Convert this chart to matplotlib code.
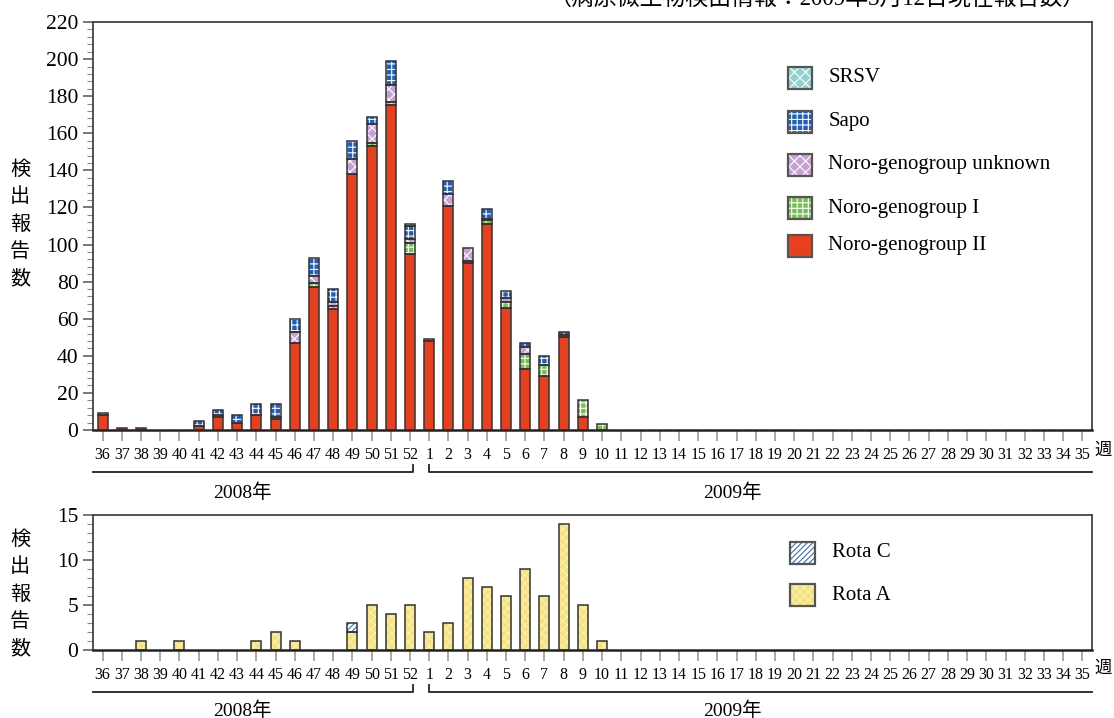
import numpy as np
import matplotlib.pyplot as plt
from matplotlib.patches import Rectangle

plt.rcParams['font.family'] = ['Liberation Serif', 'Noto Sans CJK JP']
plt.rcParams['hatch.linewidth'] = 0.8

# week labels: 2008 week 36..52, 2009 week 1..35
weeks = [str(w) for w in range(36, 53)] + [str(w) for w in range(1, 36)]

# counts for weeks 36..52 (2008) and 1..10 (2009); weeks 11..35 have no reports
noro2 = [8, 1, 1, 0, 0, 2, 7, 4, 8, 6, 47, 77, 65, 138, 153, 175, 95,
         48, 121, 90, 111, 66, 33, 29, 50, 7, 0] + [0] * 25
noro1 = [0, 0, 0, 0, 0, 0, 1, 0, 0, 1, 0, 2, 2, 0, 2, 2, 6,
         1, 0, 1, 2, 3, 8, 6, 0, 9, 3] + [0] * 25
noro_unk = [0, 0, 0, 0, 0, 0, 0, 0, 0, 0, 6, 4, 2, 8, 10, 9, 2,
            0, 6, 7, 1, 2, 4, 0, 1, 0, 0] + [0] * 25
sapo = [1, 0, 0, 0, 0, 3, 3, 4, 6, 7, 7, 10, 7, 10, 4, 13, 7,
        0, 7, 0, 5, 4, 2, 5, 2, 0, 0] + [0] * 25
srsv = [0, 0, 0, 0, 0, 0, 0, 0, 0, 0, 0, 0, 0, 0, 0, 0, 1,
        0, 0, 0, 0, 0, 0, 0, 0, 0, 0] + [0] * 25

rota_a = [0, 0, 1, 0, 1, 0, 0, 0, 1, 2, 1, 0, 0, 2, 5, 4, 5,
          2, 3, 8, 7, 6, 9, 6, 14, 5, 1] + [0] * 25
rota_c = [0, 0, 0, 0, 0, 0, 0, 0, 0, 0, 0, 0, 0, 1, 0, 0, 0,
          0, 0, 0, 0, 0, 0, 0, 0, 0, 0] + [0] * 25

top_series = [
    ('Noro-genogroup II', noro2, '#e8401f', None),
    ('Noro-genogroup I', noro1, '#74bf52', '+++'),
    ('Noro-genogroup unknown', noro_unk, '#c8a2d6', 'xxx'),
    ('Sapo', sapo, '#1f5fc2', '+++'),
    ('SRSV', srsv, '#8ed3cb', 'xxx'),
]
bot_series = [
    ('Rota A', rota_a, '#f6e27a', 'xxxx', '#fbf1b5'),
    ('Rota C', rota_c, 'white', '//////', '#3a6fc4'),
]

x = np.arange(len(weeks))
W = 0.52
EDGE = '#333333'

fig = plt.figure(figsize=(11.14, 7.18), dpi=100)
ax1 = fig.add_axes([93 / 1114, 1 - 430 / 718, 999 / 1114, 408 / 718])
ax2 = fig.add_axes([93 / 1114, 1 - 650 / 718, 999 / 1114, 135 / 718])


def draw_stack(ax, x, vals, bottom, color, hatch, hcolor='white'):
    vals = np.array(vals, dtype=float)
    m = vals > 0
    ax.bar(x[m], vals[m], W, bottom=bottom[m], color=color, hatch=hatch,
           edgecolor=hcolor, linewidth=0, zorder=2)
    ax.bar(x[m], vals[m], W, bottom=bottom[m], fill=False,
           edgecolor=EDGE, linewidth=1.1, zorder=3)
    return bottom + vals


bottom = np.zeros(len(x))
for name, vals, col, h in top_series:
    bottom = draw_stack(ax1, x, vals, bottom, col, h)

bottom = np.zeros(len(x))
for name, vals, col, h, hc in bot_series:
    bottom = draw_stack(ax2, x, vals, bottom, col, h, hc)

for ax in (ax1, ax2):
    ax.set_xlim(-0.5, len(weeks) - 0.5)
    ax.set_xticks(x)
    ax.set_xticklabels(weeks, fontsize=11.5)
    ax.tick_params(axis='x', direction='out', length=8, width=1.2,
                   color='#999999', pad=4)
    ax.tick_params(axis='y', which='major', direction='out', length=7,
                   width=1.1, color='#555555', labelsize=15.5)
    ax.tick_params(axis='y', which='minor', direction='out', length=4,
                   width=0.8, color='#888888')
    for s in ax.spines.values():
        s.set_color('#444444')
        s.set_linewidth(1.3)
    ax.spines['bottom'].set_linewidth(1.8)
    ax.spines['bottom'].set_color('#222222')

ax1.set_ylim(0, 220)
ax1.set_yticks(np.arange(0, 221, 20))
ax1.set_yticks(np.arange(0, 221, 4), minor=True)
ax2.set_ylim(0, 15)
ax2.set_yticks([0, 5, 10, 15])
ax2.set_yticks(np.arange(0, 16, 1), minor=True)

# year brackets under the week labels
for ax, yb, yl, yt in ((ax1, -0.103, -0.155, -0.05), (ax2, -0.31, -0.45, -0.14)):
    tr = ax.get_xaxis_transform()
    d = 7 / (ax.bbox.height)
    ax.plot([-0.5, 16.15, 16.15], [yb, yb, yb + d], color='#222222', lw=1.3,
            transform=tr, clip_on=False)
    ax.plot([17.0, 17.0, 51.5], [yb + d, yb, yb], color='#222222', lw=1.3,
            transform=tr, clip_on=False)
    ax.text(7.3, yl, '2008年', transform=tr, ha='center', va='center', fontsize=14)
    ax.text(32.8, yl, '2009年', transform=tr, ha='center', va='center', fontsize=14)
    ax.text(1.002, yt, '週', transform=ax.transAxes, ha='left', va='center',
            fontsize=12.5)

# legends drawn as boxes in axes coordinates
def legend_items(ax, items, x0, ys, w, h, tx, fs):
    for (name, col, hatch, hc), yc in zip(items, ys):
        ax.add_patch(Rectangle((x0, yc - h / 2), w, h, facecolor=col, hatch=hatch,
                               edgecolor=hc, linewidth=0, transform=ax.transAxes,
                               clip_on=False, zorder=4))
        ax.add_patch(Rectangle((x0, yc - h / 2), w, h, fill=False, edgecolor='#555555',
                               linewidth=1.6, transform=ax.transAxes,
                               clip_on=False, zorder=5))
        ax.text(tx, yc, name, transform=ax.transAxes, ha='left', va='center',
                fontsize=fs)


top_legend = [('SRSV', '#8ed3cb', 'xxx', 'white'),
              ('Sapo', '#1f5fc2', '+++', 'white'),
              ('Noro-genogroup unknown', '#c8a2d6', 'xxx', 'white'),
              ('Noro-genogroup I', '#74bf52', '+++', 'white'),
              ('Noro-genogroup II', '#e8401f', None, 'white')]
legend_items(ax1, top_legend, 0.696, [0.863, 0.755, 0.650, 0.544, 0.451],
             0.024, 0.054, 0.736, 15)
bot_legend = [('Rota C', 'white', '//////', '#3a6fc4'),
              ('Rota A', '#f6e27a', 'xxxx', '#fbf1b5')]
legend_items(ax2, bot_legend, 0.698, [0.719, 0.407], 0.025, 0.163, 0.740, 15)

# vertical y labels
fig.text(20 / 1114, 1 - 225 / 718, '検\n出\n報\n告\n数', ha='center', va='center',
         fontsize=14.5, linespacing=1.6)
fig.text(20 / 1114, 1 - 595 / 718, '検\n出\n報\n告\n数', ha='center', va='center',
         fontsize=14.5, linespacing=1.6)

fig.text(0.974, 1.0, '（病原微生物検出情報：2009年3月12日現在報告数）', ha='right',
         va='center', fontsize=16.5)

fig.savefig('out.png', dpi=100)
